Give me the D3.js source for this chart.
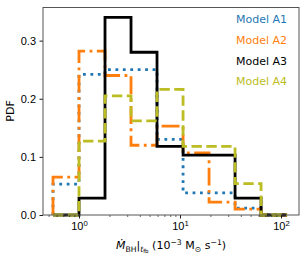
<!DOCTYPE html>
<html lang="en">
<head>
<meta charset="UTF-8" />
<title>PDF histogram</title>
<script src="https://d3js.org/d3.v7.min.js"></script>
<style>
  body { margin: 0; background: #fff; }
  svg { display: block; font-family: 'DejaVu Sans', sans-serif; }
  text { font-size: 11px; fill: #000; }
  .domain { stroke: none; }
</style>
</head>
<body>
<svg id="chart" width="307" height="257"></svg>
<script>
// bin edges (log-spaced), in 10^-3 Msun/s
const binEdges = [0.5527, 1.0, 1.809, 3.273, 5.92, 10.72, 19.39, 35.08, 63.46, 114.8];

// PDF per bin for each model
const modelA1 = [0.053, 0.242, 0.25, 0.25, 0.13, 0.038, 0.038, 0.012, 0];
const modelA2 = [0.065, 0.282, 0.24, 0.12, 0.153, 0.107, 0.022, 0.01, 0];
const modelA3 = [0, 0.029, 0.34, 0.28, 0.118, 0.103, 0.103, 0.029, 0];
const modelA4 = [0, 0.127, 0.205, 0.162, 0.216, 0.118, 0.118, 0.054, 0];

const modelNames = ['Model A1', 'Model A2', 'Model A3', 'Model A4'];
const yTicks = [0.0, 0.1, 0.2, 0.3];
const xTicks = [1, 10, 100];

const lw = 2.8;
const series = [
  { name: modelNames[0], vals: modelA1, color: '#1f77b4', dash: `${lw} ${lw * 1.65}` },
  { name: modelNames[1], vals: modelA2, color: '#ff7f0e', dash: `${lw * 6.4} ${lw * 1.6} ${lw} ${lw * 1.6}` },
  { name: modelNames[2], vals: modelA3, color: '#000000', dash: null },
  { name: modelNames[3], vals: modelA4, color: '#bcbd22', dash: `${lw * 3.7} ${lw * 1.6}` }
];

const svg = d3.select('#chart');
const mLeft = 43, mRight = 299, mTop = 7.5, mBottom = 215;

const x = d3.scaleLog().domain([0.44, 150.7]).range([mLeft, mRight]);
const y = d3.scaleLinear().domain([0, 0.357]).range([mBottom, mTop]);

// histogram outlines (matplotlib 'step' style)
const plot = svg.append('g');
series.forEach(s => {
  const pts = [[binEdges[0], 0]];
  s.vals.forEach((v, i) => {
    pts.push([binEdges[i], v]);
    pts.push([binEdges[i + 1], v]);
  });
  pts.push([binEdges[binEdges.length - 1], 0]);
  plot.append('path')
    .attr('d', d3.line().x(d => x(d[0])).y(d => y(d[1]))(pts))
    .attr('fill', 'none')
    .attr('stroke', s.color)
    .attr('stroke-width', lw)
    .attr('stroke-dasharray', s.dash);
});

// axes
const xAxis = svg.append('g').attr('transform', `translate(0,${mBottom})`);
const minor = [];
[0.1, 1, 10, 100].forEach(d => { for (let k = 2; k <= 9; k++) minor.push(d * k); });
xAxis.call(d3.axisBottom(x).tickValues(minor.filter(v => v > 0.44 && v < 150.7)).tickSize(2).tickFormat(''));
xAxis.selectAll('line').attr('stroke', '#000').attr('stroke-width', 0.6);
const xMajor = svg.append('g').attr('transform', `translate(0,${mBottom})`)
  .call(d3.axisBottom(x).tickValues(xTicks).tickSize(3.5).tickFormat(''));
xMajor.selectAll('line').attr('stroke', '#000').attr('stroke-width', 0.9);
xMajor.selectAll('.tick').each(function (d) {
  const t = d3.select(this).append('text')
    .attr('y', 15).attr('text-anchor', 'middle');
  t.append('tspan').text('10');
  t.append('tspan').attr('dy', -4.5).style('font-size', '7.7px').text(Math.round(Math.log10(d)));
});

const yAxis = svg.append('g').attr('transform', `translate(${mLeft},0)`)
  .call(d3.axisLeft(y).tickValues(yTicks).tickSize(3.5).tickPadding(3.5).tickFormat(d3.format('.1f')));
yAxis.selectAll('line').attr('stroke', '#000').attr('stroke-width', 0.9);
yAxis.selectAll('text').style('font-size', '11px').attr('fill', '#000');

// frame
svg.append('rect')
  .attr('x', mLeft).attr('y', mTop)
  .attr('width', mRight - mLeft).attr('height', mBottom - mTop)
  .attr('fill', 'none').attr('stroke', '#555').attr('stroke-width', 1);

// legend (text only)
series.forEach((s, i) => {
  svg.append('text')
    .attr('x', 287).attr('y', 23 + i * 20.8)
    .attr('text-anchor', 'end')
    .style('fill', s.color)
    .text(s.name);
});

// y label
svg.append('text')
  .attr('transform', 'translate(14,111) rotate(-90)')
  .attr('text-anchor', 'middle')
  .text('PDF');

// x label
const xl = svg.append('text')
  .attr('x', 171).attr('y', 249)
  .attr('text-anchor', 'middle');
xl.append('tspan').style('font-style', 'italic').text('M\u0307');
xl.append('tspan').attr('dy', 2.5).style('font-size', '7.7px').text('BH');
xl.append('tspan').attr('dy', -2.5).text('|');
xl.append('tspan').attr('dy', 2.5).style('font-size', '7.7px').style('font-style', 'italic').text('t');
xl.append('tspan').attr('dy', 1.5).style('font-size', '5.5px').text('fb');
xl.append('tspan').attr('dy', -4).text(' (10');
xl.append('tspan').attr('dy', -4.5).style('font-size', '7.7px').text('\u22123');
xl.append('tspan').attr('dy', 4.5).text(' M');
xl.append('tspan').attr('dy', 2.5).style('font-size', '7.7px').text('\u2299');
xl.append('tspan').attr('dy', -2.5).text(' s');
xl.append('tspan').attr('dy', -4.5).style('font-size', '7.7px').text('\u22121');
xl.append('tspan').attr('dy', 4.5).text(')');
</script>
</body>
</html>
